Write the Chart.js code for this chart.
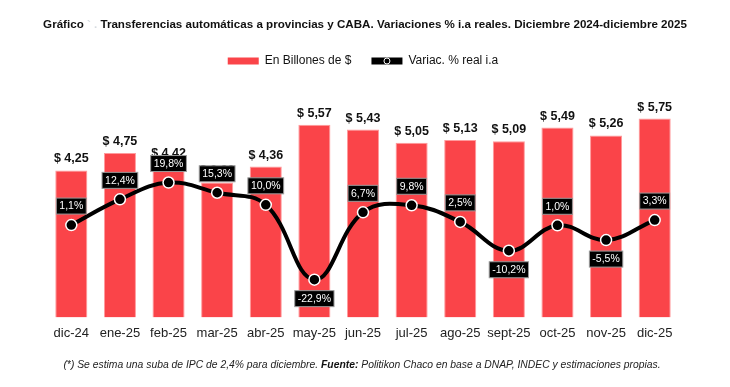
<!DOCTYPE html>
<html>
<head>
<meta charset="utf-8">
<script src="https://cdn.jsdelivr.net/npm/chart.js@4.4.1/dist/chart.umd.min.js"></script>
<style>
  html, body { margin: 0; padding: 0; background: #fff; }
  #wrap { width: 730px; height: 387px; }
</style>
</head>
<body>
<div id="wrap"><canvas id="transfChart" width="730" height="387"></canvas></div>
<script>
const months = ["dic-24", "ene-25", "feb-25", "mar-25", "abr-25", "may-25", "jun-25", "jul-25", "ago-25", "sept-25", "oct-25", "nov-25", "dic-25"];
const billones = [4.25, 4.75, 4.42, 3.90, 4.36, 5.57, 5.43, 5.05, 5.13, 5.09, 5.49, 5.26, 5.75];
const variacion = [1.1, 12.4, 19.8, 15.3, 10.0, -22.9, 6.7, 9.8, 2.5, -10.2, 1.0, -5.5, 3.3];

const FONT = "'Liberation Sans', Arial, sans-serif";
const RED = "#FA4449";

const fmtPesos = (v) => "$ " + v.toFixed(2).replace(".", ",");
const fmtPct = (v) => v.toFixed(1).replace(".", ",") + "%";

// draws text made of pieces with their own font / colour, centered on x
const drawPieces = (ctx, pieces, cx, cy) => {
  let total = 0;
  pieces.forEach((p) => {
    ctx.font = p.font;
    p.w = ctx.measureText(p.text).width;
    total += p.w;
  });
  let x = cx - total / 2;
  ctx.textBaseline = "middle";
  ctx.textAlign = "left";
  pieces.forEach((p) => {
    ctx.font = p.font;
    ctx.fillStyle = p.color;
    ctx.fillText(p.text, x, cy);
    x += p.w;
  });
};

const textPlugin = {
  id: "textPlugin",
  afterDraw(chart) {
    const ctx = chart.ctx;
    ctx.save();
    const tb = "bold 11.6px " + FONT;
    drawPieces(ctx, [
      { text: "Gráfico ", font: tb, color: "#111" },
      { text: "` .", font: tb, color: "#d6dbe0" },
      { text: " Transferencias automáticas a provincias y CABA. Variaciones % i.a reales. Diciembre 2024-diciembre 2025", font: tb, color: "#111" },
    ], 365, 25);
    const fi = "italic 10.35px " + FONT;
    drawPieces(ctx, [
      { text: "(*) Se estima una suba de IPC de 2,4% para diciembre. ", font: fi, color: "#222" },
      { text: "Fuente:", font: "italic bold 10.35px " + FONT, color: "#111" },
      { text: " Politikon Chaco en base a DNAP, INDEC y estimaciones propias.", font: fi, color: "#222" },
    ], 362, 365);

    // small marker on the line legend swatch
    const hb = chart.legend.legendHitBoxes[1];
    if (hb) {
      const bw = chart.legend.options.labels.boxWidth;
      ctx.beginPath();
      ctx.arc(hb.left + bw / 2, hb.top + hb.height / 2, 3, 0, Math.PI * 2);
      ctx.fillStyle = "#000";
      ctx.fill();
      ctx.lineWidth = 1;
      ctx.strokeStyle = "#fff";
      ctx.stroke();
    }
    ctx.restore();
  },
};

const labelPlugin = {
  id: "labelPlugin",
  afterDatasetDraw(chart, args) {
    const ctx = chart.ctx;
    const meta = args.meta;
    ctx.save();
    if (args.index === 0) {
      ctx.font = "bold 12.5px " + FONT;
      ctx.fillStyle = "#111";
      ctx.textAlign = "center";
      ctx.textBaseline = "alphabetic";
      meta.data.forEach((bar, i) => {
        ctx.fillText(fmtPesos(billones[i]), bar.x, bar.y - 8);
      });
    } else {
      ctx.font = "10.5px " + FONT;
      ctx.textAlign = "center";
      ctx.textBaseline = "middle";
      meta.data.forEach((pt, i) => {
        const txt = fmtPct(variacion[i]);
        const w = ctx.measureText(txt).width + 6;
        const h = 16;
        const cy = variacion[i] < 0 ? pt.y + 19 : pt.y - 19;
        ctx.fillStyle = "#000";
        ctx.fillRect(pt.x - w / 2, cy - h / 2, w, h);
        ctx.strokeStyle = "#9a9a9a";
        ctx.lineWidth = 1;
        ctx.strokeRect(pt.x - w / 2, cy - h / 2, w, h);
        ctx.fillStyle = "#fff";
        ctx.fillText(txt, pt.x, cy + 0.5);
      });
    }
    ctx.restore();
  },
};

const ctxEl = document.getElementById("transfChart").getContext("2d");
new Chart(ctxEl, {
  type: "bar",
  data: {
    labels: months,
    datasets: [
      {
        label: "En Billones de $",
        data: billones,
        backgroundColor: RED,
        borderColor: "#ff9a9c",
        borderWidth: 1,
        barPercentage: 0.66,
        categoryPercentage: 1,
        yAxisID: "y",
        order: 1,
      },
      {
        type: "line",
        label: "Variac. % real i.a",
        data: variacion,
        borderColor: "#000",
        backgroundColor: "#000",
        borderWidth: 4,
        tension: 0.4,
        pointRadius: 5.5,
        pointBackgroundColor: "#000",
        pointBorderColor: "#fff",
        pointBorderWidth: 1.5,
        yAxisID: "y1",
        order: 0,
      },
    ],
  },
  options: {
    responsive: false,
    animation: false,
    layout: { padding: { top: 35, bottom: 46, left: 47, right: 51 } },
    plugins: {
      title: { display: false },
      tooltip: { enabled: false },
      legend: {
        display: true,
        position: "top",
        labels: {
          font: { family: FONT, size: 12 },
          color: "#111",
          boxWidth: 31,
          boxHeight: 7,
          padding: 20,
          generateLabels: (chart) =>
            chart.data.datasets.map((ds, i) => ({
              text: ds.label,
              fillStyle: i === 0 ? RED : "#000",
              strokeStyle: i === 0 ? RED : "#000",
              lineWidth: 0,
              datasetIndex: i,
              hidden: false,
              fontColor: "#111",
            })),
        },
      },
    },
    scales: {
      x: {
        grid: { display: false },
        border: { display: false },
        ticks: { font: { family: FONT, size: 13 }, color: "#222", padding: 0, maxRotation: 0 },
      },
      y: { display: false, min: 0, max: 6.95 },
      y1: { display: false, min: -39.5, max: 66.2 },
    },
  },
  plugins: [labelPlugin, textPlugin],
});
</script>
</body>
</html>
